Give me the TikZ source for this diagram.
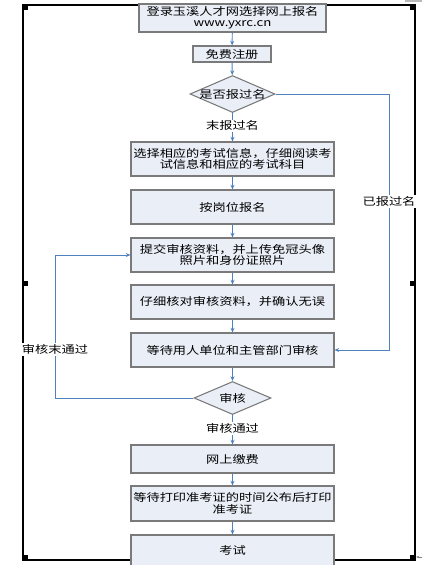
\documentclass[tikz,border=0pt]{standalone}
\usepackage{fontspec}
\setmainfont[FakeStretch=1.24]{Noto Sans CJK SC}
\usetikzlibrary{shapes.geometric,arrows.meta}
\usepackage{xcolor}
\definecolor{boite}{HTML}{E9EEF7}
\definecolor{bord}{HTML}{7A7A7A}
\definecolor{fleche}{HTML}{4F81BD}

\begin{document}
\begin{tikzpicture}[x=0.75pt,y=-0.75pt,
    font=\fontsize{8}{8.6}\selectfont,
    etape/.style={draw=bord,fill=boite,line width=0.8pt,inner sep=0pt,
      align=center,minimum width=203*0.75pt},
    choix/.style={diamond,draw=bord,fill=boite,line width=0.8pt,inner sep=0pt},
    fl/.style={draw=fleche,line width=0.7pt,-{Stealth[length=3.5pt,width=3pt]}},
    etiq/.style={fill=white,inner sep=1pt}]
      \def\px{0.75pt}
      \useasboundingbox (0,0) rectangle (422,565);

      % Cadre
      \fill[gray!55] (405,0) rectangle (422,2);
      \draw[line width=1.4pt] (23,5) rectangle (415,560);
      \foreach \hx/\hy in {23/5,217/5,410/5,23/281,410/281,23/555,217/555,410/555}
        \fill (\hx,\hy) rectangle ++(5,5);
      \draw[gray,line width=0.6pt,-{Stealth[length=2.5pt]}] (422,557) -- (416,557);

      % Etapes
      \node[etape,minimum width=187*\px,minimum height=28*\px] (inscr) at (232.5,18)
        {登录玉溪人才网选择网上报名\\www.yxrc.cn};
      \node[etape,minimum width=78*\px,minimum height=16*\px] (compte) at (232,54) {免费注册};
      \node[choix,minimum width=85*\px,minimum height=37*\px] (deja) at (232.5,94)
        {\makebox[0pt]{是否报过名}};
      \node[etape,minimum height=34*\px] (info) at (232.5,159)
        {选择相应的考试信息，仔细阅读考\\试信息和相应的考试科目};
      \node[etape,minimum height=34*\px] (poste) at (232.5,207) {按岗位报名};
      \node[etape,minimum height=34*\px] (pieces) at (232.5,255)
        {提交审核资料，并上传免冠头像\\照片和身份证照片};
      \node[etape,minimum height=34*\px] (verif) at (232.5,302) {仔细核对审核资料，并确认无误};
      \node[etape,minimum height=34*\px] (attente) at (232.5,350) {等待用人单位和主管部门审核};
      \node[choix,minimum width=77*\px,minimum height=33*\px] (revue) at (232.5,398)
        {\makebox[0pt]{审核}};
      \node[etape,minimum height=28*\px] (paie) at (232.5,459) {网上缴费};
      \node[etape,minimum height=35*\px] (carte) at (232.5,503.5)
        {等待打印准考证的时间公布后打印\\准考证};
      \node[etape,minimum height=31*\px] (exam) at (232.5,550.5) {考试};

      % Fleches
      \draw[fl] (inscr) -- (compte);
      \draw[fl] (compte) -- (deja);
      \draw[fl] (deja) -- node[etiq,pos=0.45] (nonlbl) {末报过名} (info);
      \draw[fl] (info) -- (poste);
      \draw[fl] (poste) -- (pieces);
      \draw[fl] (pieces) -- (verif);
      \draw[fl] (verif) -- (attente);
      \draw[fl] (attente) -- (revue);
      \draw[fl] (revue) -- node[etiq,pos=0.45] (oklbl) {审核通过} (paie);
      \draw[fl] (paie) -- (carte);
      \draw[fl] (carte) -- (exam);

      % Retours
      \coordinate (coinD) at (389,94);
      \coordinate (coinG) at (55,398);
      \draw[fl] (deja.east) -- (coinD) |- node[etiq,pos=0.21] (ouilbl) {已报过名} (attente.east);
      \draw[fl] (revue.west) -- (coinG) |- node[etiq,pos=0.17] (refuslbl) {审核末通过} (pieces.west);
    \end{tikzpicture}
\end{document}
